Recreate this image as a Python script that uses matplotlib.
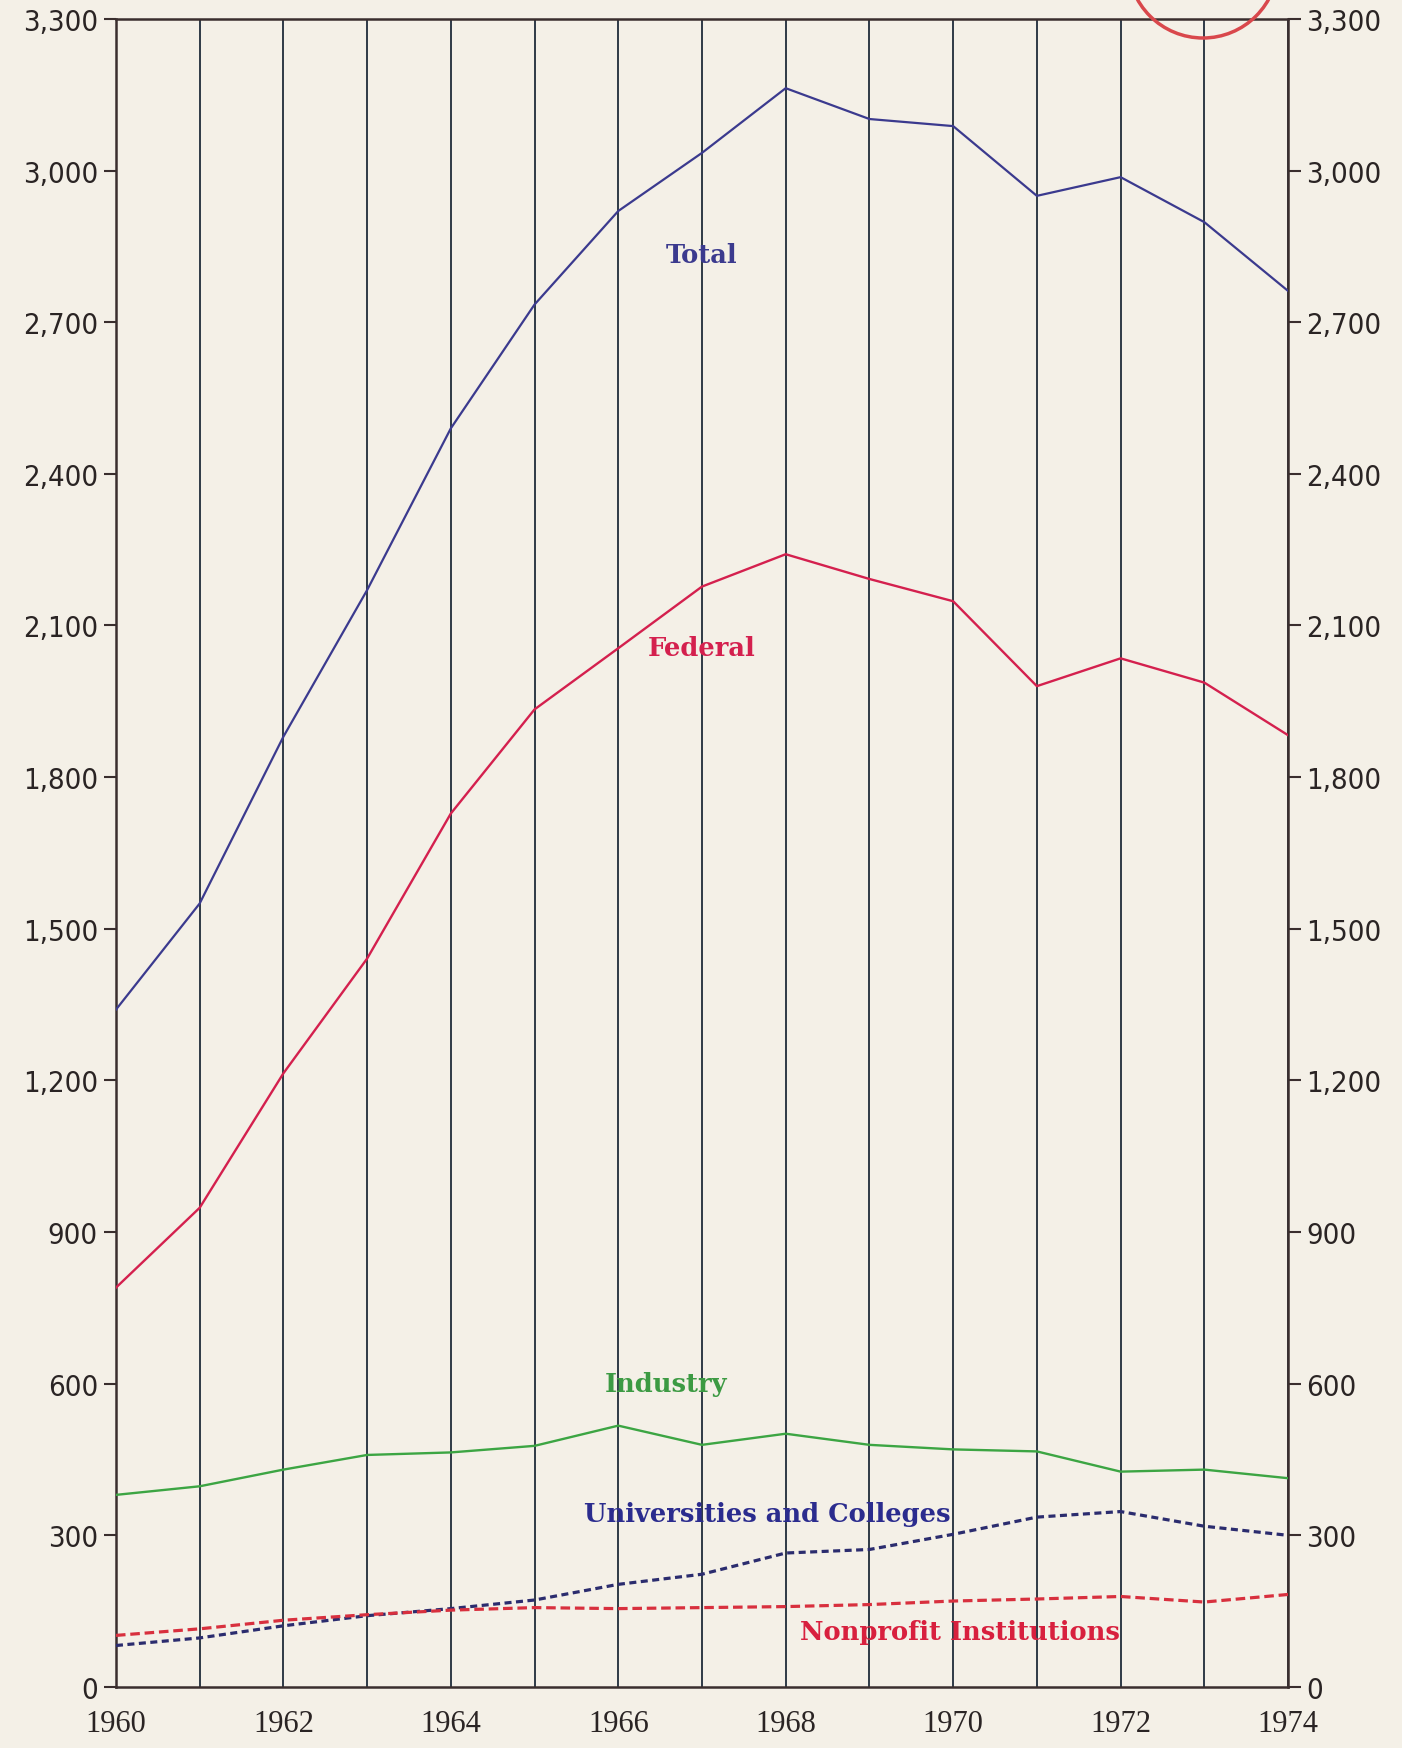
import matplotlib.pyplot as plt
from matplotlib.patches import Ellipse

years = list(range(1960, 1975))
total = [1340, 1550, 1880, 2170, 2490, 2735, 2920, 3035, 3163, 3102, 3088, 2950, 2987, 2898, 2762]
federal = [790, 948, 1214, 1441, 1728, 1934, 2055, 2177, 2241, 2192, 2148, 1980, 2035, 1987, 1883]
industry = [380, 397, 430, 459, 464, 477, 517, 479, 501, 479, 470, 466, 426, 430, 413]
universities = [82, 97, 121, 141, 155, 172, 203, 223, 265, 272, 302, 336, 347, 318, 300]
nonprofit = [102, 115, 132, 143, 152, 157, 155, 157, 159, 163, 170, 174, 179, 168, 183]

yticks = list(range(0, 3301, 300))
xticks = list(range(1960, 1975, 2))

bg = '#f4f0e7'
fig = plt.figure(figsize=(14.02, 17.49), dpi=100, facecolor=bg)
ax = fig.add_axes([0.0827, 0.0349, 0.8360, 0.9537], facecolor=bg)

# vertical year grid
for yr in years:
    ax.axvline(yr, color='#1f2b3a', lw=1.3, zorder=1)

ax.plot(years, total, color='#3b3a8e', lw=1.6, zorder=3)
ax.plot(years, federal, color='#d4204e', lw=1.7, zorder=3)
ax.plot(years, industry, color='#3ca543', lw=1.7, zorder=3)
ax.plot(years, universities, color='#2b2c6e', lw=2.3, ls=(0, (2.2, 1.4)), zorder=3)
ax.plot(years, nonprofit, color='#d8303e', lw=2.3, ls=(0, (3, 1.5)), zorder=3)

lab = dict(family='DejaVu Serif', fontweight='bold', fontsize=18.5, ha='center', va='center', zorder=4)
ax.text(1967.0, 2834, 'Total', color='#3b3a8e', **lab)
ax.text(1967.0, 2057, 'Federal', color='#d4204e', **lab)
ax.text(1966.57, 600, 'Industry', color='#3c9a43', **lab)
ax.text(1967.78, 344, 'Universities and Colleges', color='#2b2c8e', **lab)
ax.text(1970.08, 110, 'Nonprofit Institutions', color='#d8203e', **lab)

ax.set_xlim(1960, 1974)
ax.set_ylim(0, 3300)
for s in ax.spines.values():
    s.set_color('#3a2e2e')
    s.set_linewidth(1.8)

tick_font = dict(family='DejaVu Sans', fontstretch='condensed', fontsize=21)
ax.set_yticks(yticks)
ax.set_yticklabels([f'{v:,}' for v in yticks], **tick_font)
ax.tick_params(axis='y', direction='out', length=9, width=1.5, color='#3a2e2e', pad=4, labelcolor='#2a2424')
ax.set_xticks(xticks)
ax.set_xticklabels([str(v) for v in xticks], family='Liberation Serif', fontsize=22)
ax.tick_params(axis='x', length=0, pad=16, labelcolor='#2a2424')

ax2 = ax.twinx()
ax2.set_ylim(0, 3300)
ax2.set_yticks(yticks)
ax2.set_yticklabels([f'{v:,}' for v in yticks], **tick_font)
ax2.tick_params(axis='y', direction='out', length=9, width=1.5, color='#3a2e2e', pad=4, labelcolor='#2a2424')
for s in ax2.spines.values():
    s.set_visible(False)

# stamp mark at the top edge
fig.patches.append(Ellipse((1203 / 1402, 1 + 36 / 1749), 150 / 1402, 150 / 1749, transform=fig.transFigure,
                           fill=False, ec='#d9484c', lw=2.5, zorder=5))

plt.savefig('out.png', dpi=100, facecolor=bg)
